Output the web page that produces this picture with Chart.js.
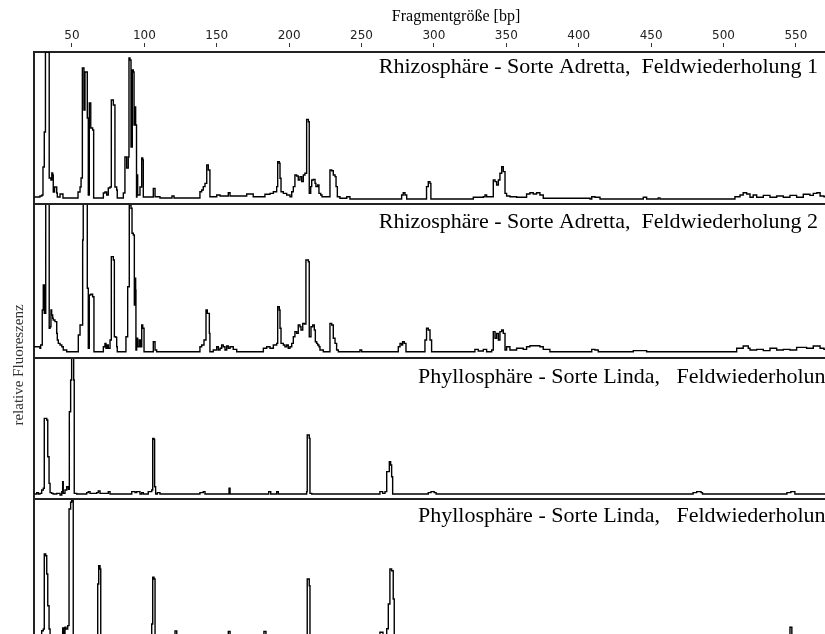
<!DOCTYPE html>
<html>
<head>
<meta charset="utf-8">
<title>T-RFLP Profile</title>
<script src="https://cdn.jsdelivr.net/npm/chart.js@4.4.1/dist/chart.umd.min.js"></script>
<style>
    html, body { margin: 0; padding: 0; background: #fff; overflow: hidden; }
    #wrap { width: 884px; height: 648px; }
</style>
</head>
<body>
<div id="wrap"><canvas id="profileChart" width="884" height="648"></canvas></div>
<script>
// Fragment sizes [bp] and relative fluorescence (% of panel height)

// Rhizosphäre - Adretta, Wiederholung 1
const sizes1 = [24.0, 27.9, 29.3, 30.0, 30.9, 31.7, 34.2, 34.3, 35.5, 36.1, 36.7, 37.1, 38.0, 39.5, 39.9, 41.8, 43.8,
    53.3, 54.2, 55.6, 56.3, 57.2, 58.3, 59.0, 59.7, 60.6, 61.3, 62.0, 63.0, 64.3, 65.0,
    70.6, 71.7, 72.8, 74.0, 75.1, 76.3, 77.2, 78.6, 79.7, 80.9, 81.3,
    85.5, 86.6, 87.8, 88.9, 89.4, 90.1, 90.8, 91.7, 92.4, 92.9, 93.6, 94.0, 94.6, 94.9, 95.4, 97.0, 98.2, 98.9, 99.3,
    105.1, 106.2, 107.4, 110.8, 119.1, 120.5, 128.1, 138.4, 139.6, 140.7, 141.9, 143.1, 144.2, 144.9, 145.3,
    150.0, 152.3, 158.0, 159.2, 170.7, 175.2, 183.3, 186.8, 189.1, 191.4, 192.1, 193.2, 193.7, 194.4, 196.0,
    198.3, 200.6, 201.8, 202.9, 204.0, 205.2, 206.3, 207.5, 208.7, 209.8, 210.9, 212.1, 213.3, 213.9, 214.9,
    215.6, 216.7, 217.9, 218.5, 219.7, 220.6, 221.8, 222.7, 226.4, 228.2, 229.4, 230.5, 231.7, 232.4, 233.3,
    235.1, 239.8, 242.0, 277.7, 278.8, 280.0, 281.2, 293.8, 294.9, 296.1, 297.3, 297.9,
    327.2, 334.1, 335.3, 336.4, 339.9, 341.0, 342.2, 343.3, 344.5, 345.6, 346.8, 347.9, 349.1, 350.2, 352.5,
    357.1, 364.0, 366.3, 368.6, 370.9, 373.2, 375.5, 407.8, 409.0, 411.2, 414.7, 444.6, 446.9, 454.9, 456.1,
    504.5, 507.9, 511.4, 513.6, 516.0, 518.3, 520.5, 522.9, 527.5, 532.1, 536.7, 541.3, 545.9, 550.5, 555.1,
    559.7, 562.0, 564.5, 566.7, 569.4, 590.0, 606.7];
const values1 = [4.6, 5.3, 5.9, 24.3, 47.4, 100, 100, 17.1, 15.8, 20.4, 19.1, 7.9, 11.2, 7.2, 4.6, 6.6, 3.9,
    3.9, 7.9, 11.2, 17.1, 89.5, 61.8, 86.8, 86.8, 56.6, 5.9, 66.4, 50.0, 48.7, 3.9,
    3.9, 7.2, 7.9, 5.9, 10.5, 11.2, 68.4, 65.1, 11.2, 9.2, 3.9,
    7.2, 30.9, 23.7, 30.9, 96.1, 94.7, 37.5, 88.2, 86.8, 52.0, 63.8, 52.0, 4.6, 19.1, 5.9, 11.2, 30.3, 28.9, 4.6,
    4.6, 10.3, 4.8, 3.9, 5.3, 3.9, 3.9, 8.1, 9.2, 11.4, 13.6, 25.7, 22.4, 22.4, 4.8,
    5.9, 5.3, 7.4, 5.3, 6.6, 4.8, 6.4, 7.0, 8.1, 11.4, 27.8, 26.8, 16.9, 8.1, 7.0,
    5.9, 4.8, 8.1, 11.4, 19.1, 18.4, 15.8, 18.0, 14.7, 19.1, 20.2, 55.7, 54.1, 7.0, 11.4,
    15.8, 16.2, 13.6, 11.4, 12.5, 7.0, 5.9, 4.8, 4.8, 22.4, 21.9, 19.1, 18.0, 11.4, 4.8,
    3.8, 4.8, 3.3, 5.9, 7.4, 5.9, 3.3, 3.3, 11.4, 14.7, 13.6, 3.3,
    4.4, 4.8, 5.9, 4.8, 4.8, 15.8, 14.7, 12.5, 15.8, 20.2, 24.5, 21.3, 7.0, 5.3, 4.8,
    4.4, 6.6, 7.4, 6.6, 7.4, 5.9, 3.8, 3.3, 4.8, 4.4, 3.3, 4.4, 3.3, 4.0, 3.3,
    3.3, 4.8, 5.9, 7.4, 6.6, 4.4, 5.9, 4.4, 5.7, 4.4, 5.3, 4.4, 5.7, 4.4, 6.4,
    5.7, 7.0, 7.4, 5.3, 4.8, 3.8, 3.5];

// Rhizosphäre - Adretta, Wiederholung 2
const sizes2 = [24.0, 27.9, 28.4, 29.5, 30.2, 30.9, 31.9, 34.2, 34.3, 34.9, 35.5, 36.0, 36.7, 37.1, 38.3, 39.5, 39.9,
    40.6, 41.8, 43.0, 44.0, 46.4, 53.3, 54.4, 55.6, 56.7, 57.4, 57.8, 59.7, 60.6, 61.3, 62.0, 63.0, 64.3, 65.2,
    70.6, 71.7, 72.8, 73.5, 74.4, 75.1, 76.3, 77.2, 78.6, 79.3, 80.4, 80.9, 81.3,
    86.6, 87.3, 88.5, 89.6, 90.8, 91.5, 92.4, 93.1, 93.6, 94.0, 94.2, 94.7, 95.4, 96.5, 97.5, 98.2, 98.9, 99.8,
    105.1, 106.2, 107.4, 108.5, 137.3, 138.4, 139.6, 141.2, 142.6, 143.5, 144.9, 145.3,
    147.6, 150.0, 151.1, 152.3, 153.4, 154.5, 155.7, 156.9, 158.0, 159.2, 161.4, 163.8,
    179.9, 182.2, 184.5, 186.8, 189.1, 191.4, 192.1, 193.2, 193.7, 194.4, 196.0, 197.1, 198.3, 199.4, 200.6,
    201.8, 202.9, 204.0, 205.2, 206.3, 207.5, 208.2, 209.4, 210.5, 211.6, 213.3, 213.9, 215.1, 216.3, 217.4,
    218.1, 219.0, 219.7, 220.6, 221.3, 223.6, 227.1, 228.2, 229.4, 230.5, 231.7, 232.8, 234.0, 248.9, 250.1,
    274.3, 275.4, 276.6, 277.7, 278.4, 279.5, 280.7, 292.7, 293.8, 294.9, 296.1, 297.3, 298.4,
    328.3, 330.6, 334.1, 336.4, 339.9, 341.0, 342.2, 343.3, 344.5, 345.6, 346.8, 347.9, 349.1, 350.2, 352.5,
    357.1, 361.7, 364.0, 366.3, 370.9, 373.2, 375.5, 380.1, 409.0, 411.2, 413.5, 437.7, 444.6, 446.9,
    504.5, 509.1, 513.6, 517.1, 518.3, 522.9, 527.5, 532.1, 536.7, 541.3, 545.9, 550.5, 557.4, 562.0, 566.7,
    569.4, 590.0, 606.7];
const values2 = [7.3, 6.3, 8.4, 31.2, 47.4, 29.0, 100, 100, 19.3, 20.3, 31.2, 27.9, 25.8, 24.7, 23.6, 16.0, 11.7,
    9.5, 8.4, 7.3, 5.2, 4.1, 4.1, 14.9, 21.4, 21.4, 76.6, 100, 100, 45.3, 6.3, 40.9, 41.4, 39.8, 4.1,
    4.1, 7.3, 9.5, 6.3, 8.4, 6.3, 11.7, 65.8, 63.6, 13.8, 13.4, 7.3, 4.1,
    4.1, 13.8, 46.3, 99.4, 97.2, 81.0, 79.9, 34.4, 51.8, 44.2, 5.2, 12.8, 7.3, 11.7, 7.3, 21.4, 19.3, 4.1,
    4.1, 10.6, 5.2, 4.1, 4.1, 7.3, 8.4, 11.7, 31.2, 29.0, 16.0, 4.1,
    5.2, 7.3, 5.2, 6.3, 8.4, 7.3, 5.2, 7.8, 6.3, 7.3, 5.6, 4.1,
    4.1, 6.3, 7.3, 6.3, 8.4, 9.5, 33.3, 31.2, 19.3, 9.5, 8.4, 7.3, 8.4, 6.3, 7.3,
    9.5, 13.8, 17.1, 16.0, 21.4, 20.3, 18.2, 22.5, 22.1, 63.6, 62.5, 13.8, 20.3, 21.4, 18.2,
    10.6, 9.5, 8.4, 7.3, 5.2, 4.1, 4.1, 22.5, 21.4, 12.8, 9.5, 5.2, 4.1, 5.2, 4.1,
    4.1, 7.3, 9.5, 8.4, 10.6, 9.5, 4.1, 4.1, 11.7, 19.3, 18.2, 11.7, 4.1,
    5.6, 4.5, 5.6, 4.1, 5.2, 17.1, 12.8, 16.0, 11.7, 17.1, 18.2, 16.0, 5.2, 7.3, 5.2,
    6.3, 5.6, 7.3, 8.0, 8.0, 7.3, 5.6, 4.1, 5.6, 5.2, 4.1, 4.8, 4.8, 4.1,
    4.1, 6.3, 7.8, 6.3, 5.2, 5.6, 4.8, 6.3, 5.2, 5.6, 5.2, 6.9, 6.3, 7.8, 6.3,
    5.6, 4.5, 4.1];

// Phyllosphäre - Linda, Wiederholung 1
const sizes3 = [24.0, 25.7, 26.8, 27.9, 29.1, 30.2, 30.9, 32.6, 33.3, 34.2, 34.9, 36.0, 37.1, 39.5, 41.8, 43.0,
    43.6, 44.0, 45.2, 46.4, 47.5, 48.2, 49.1, 49.8, 50.7, 51.2, 51.6, 53.3, 59.0, 60.2, 61.3, 62.5, 67.1, 68.2,
    69.4, 74.0, 75.1, 76.3, 90.1, 91.3, 93.6, 94.7, 97.0, 98.2, 99.3, 102.7, 105.1, 105.8, 106.7, 107.1, 107.8,
    109.0, 110.8, 137.3, 138.4, 140.7, 141.9, 158.0, 158.5, 159.2, 184.5, 185.9, 187.3, 190.2, 191.4, 192.5,
    210.9, 212.1, 212.5, 213.9, 214.4, 215.6, 261.6, 262.7, 264.6, 266.2, 267.4, 268.5, 269.2, 270.1, 270.8,
    271.5, 296.1, 298.0, 300.2, 301.5, 479.0, 481.5, 484.5, 485.5, 543.8, 546.5, 549.3, 606.7];
const values3 = [3.5, 4.5, 3.5, 4.0, 6.4, 7.6, 57.2, 56.0, 30.0, 11.1, 4.5, 4.0, 3.5, 4.0, 2.8, 5.2,
    12.3, 4.0, 6.4, 8.7, 6.9, 61.9, 84.4, 100, 100, 84.4, 4.0, 3.5, 3.5, 4.5, 5.2, 4.0, 4.5, 5.7,
    4.0, 4.0, 5.2, 3.5, 3.5, 5.2, 4.5, 5.2, 3.5, 4.5, 3.5, 5.2, 6.4, 43.0, 42.3, 8.7, 3.5,
    4.5, 3.5, 3.5, 4.5, 5.2, 3.5, 3.5, 7.6, 3.5, 3.5, 5.2, 3.5, 3.5, 5.2, 3.5,
    3.5, 5.2, 45.4, 43.0, 4.0, 3.5, 3.5, 5.2, 4.0, 5.2, 19.4, 19.4, 26.5, 24.1, 15.8,
    3.5, 4.5, 5.2, 4.5, 3.5, 4.5, 5.2, 4.5, 3.5, 4.5, 5.2, 3.5, 3.5];

// Phyllosphäre - Linda, Wiederholung 2
const sizes4 = [24.0, 29.1, 30.2, 30.9, 31.9, 32.6, 33.3, 34.2, 34.9, 43.6, 44.3, 45.2, 45.9, 47.1, 48.0, 49.1,
    49.8, 50.5, 50.9, 67.1, 67.8, 68.5, 69.4, 69.9, 103.9, 105.1, 105.8, 106.7, 107.4, 121.2, 122.4, 158.0,
    159.2, 182.6, 184.0, 212.5, 213.9, 214.4, 262.7, 264.8, 267.4, 268.5, 269.6, 270.8, 271.9, 272.6,
    545.9, 547.2, 606.7];
const values4 = [3.5, 6.6, 7.8, 61.0, 59.8, 46.8, 24.3, 7.8, 3.5, 8.5, 3.5, 9.0, 7.8, 10.2, 92.9, 97.7,
    98.8, 98.8, 3.5, 3.5, 39.7, 52.7, 50.4, 3.5, 3.5, 11.3, 44.5, 43.3, 3.5, 6.5, 3.5, 6.0,
    3.5, 6.0, 3.5, 43.3, 38.5, 3.5, 5.5, 3.5, 8.0, 25.5, 50.4, 49.1, 29.1, 3.5,
    9.0, 3.5, 3.5];

const xTickValues = [50, 100, 150, 200, 250, 300, 350, 400, 450, 500, 550, 600];
const panelTitles = [
    'Rhizosphäre - Sorte Adretta,  Feldwiederholung 1',
    'Rhizosphäre - Sorte Adretta,  Feldwiederholung 2',
    'Phyllosphäre - Sorte Linda,   Feldwiederholung 1',
    'Phyllosphäre - Sorte Linda,   Feldwiederholung 2'
];

const panelIds = ['p1', 'p2', 'p3', 'p4'];
const panelHeights = [152, 154, 141, 141];   // stack weights
// title placement inside each panel: [x, baseline offset from panel top, align]
const titleSpots = [[818, 21, 'right'], [818, 24, 'right'], [418, 25, 'left'], [418, 23, 'left']];

const toPoints = (xs, ys) => xs.map((x, i) => ({ x: x, y: ys[i] }));
const series = [[sizes1, values1], [sizes2, values2], [sizes3, values3], [sizes4, values4]];

// Panel frames, panel titles and y axis title
const panelDecor = {
    id: 'panelDecor',
    afterDatasetsDraw(chart) {
        const ctx = chart.ctx;
        const area = chart.chartArea;
        ctx.save();
        ctx.strokeStyle = '#222';
        ctx.lineWidth = 2;
        panelIds.forEach(id => {
            const s = chart.scales[id];
            ctx.beginPath();
            ctx.moveTo(area.left, s.bottom);
            ctx.lineTo(area.right, s.bottom);
            ctx.stroke();
        });

        ctx.fillStyle = '#000';
        ctx.font = '22px "Liberation Serif"';
        ctx.textBaseline = 'alphabetic';
        panelIds.forEach((id, i) => {
            const s = chart.scales[id];
            const spot = titleSpots[i];
            ctx.textAlign = spot[2];
            ctx.fillText(panelTitles[i], spot[0], s.top + spot[1]);
        });

        ctx.translate(19, 365);
        ctx.rotate(-Math.PI / 2);
        ctx.font = '15px "Liberation Serif"';
        ctx.fillStyle = '#333';
        ctx.textAlign = 'center';
        ctx.textBaseline = 'middle';
        ctx.fillText('relative Fluoreszenz', 0, 0);
        ctx.restore();
    }
};

const yAxis = (weight, order) => ({
    type: 'linear',
    position: 'left',
    stack: 'panels',
    stackWeight: weight,
    weight: order,
    min: 0,
    max: 100,
    ticks: { display: false },
    grid: { display: false, drawTicks: false },
    border: { display: true, color: '#222', width: 2 }
});

const ctx = document.getElementById('profileChart').getContext('2d');

new Chart(ctx, {
    type: 'line',
    data: {
        datasets: series.map((s, i) => ({
            label: panelTitles[i],
            data: toPoints(s[0], s[1]),
            yAxisID: panelIds[i],
            borderColor: '#000',
            borderWidth: 1.4,
            pointRadius: 0,
            stepped: true,
            fill: false
        }))
    },
    options: {
        responsive: false,
        animation: false,
        layout: { padding: { left: 34, right: 6, top: 0, bottom: 8 } },
        plugins: {
            legend: { display: false },
            tooltip: { enabled: false }
        },
        scales: {
            x: {
                type: 'linear',
                position: 'top',
                min: 23.8,
                max: 606.7,
                afterBuildTicks: axis => {
                    axis.ticks = xTickValues.map(v => ({ value: v }));
                },
                ticks: {
                    padding: 0,
                    color: '#222',
                    font: { family: 'DejaVu Sans', size: 12 }
                },
                grid: {
                    display: true,
                    drawOnChartArea: false,
                    drawTicks: true,
                    tickLength: 9,
                    tickBorderDash: [4, 20],
                    tickColor: '#333',
                    tickWidth: 1
                },
                border: { display: true, color: '#222', width: 2 },
                title: {
                    display: true,
                    text: 'Fragmentgröße [bp]',
                    color: '#000',
                    font: { family: 'Liberation Serif', size: 16 },
                    padding: { top: 7, bottom: 2.4 }
                }
            },
            p1: yAxis(panelHeights[0], 4),
            p2: yAxis(panelHeights[1], 3),
            p3: yAxis(panelHeights[2], 2),
            p4: yAxis(panelHeights[3], 1)
        }
    },
    plugins: [panelDecor]
});
</script>
</body>
</html>
